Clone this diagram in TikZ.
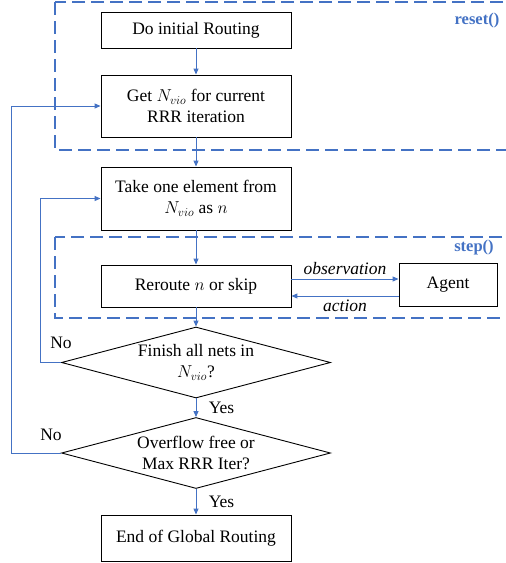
\documentclass[tikz,border=0pt]{standalone}
\usepackage{fontspec}
\setmainfont{Liberation Serif}
\usepackage{tikz}
\usetikzlibrary{shapes.geometric}
\usetikzlibrary{arrows.meta,calc}
\definecolor{flowblue}{HTML}{4472C4}

\begin{document}
\begin{tikzpicture}[x=1pt,y=-1pt,
	font=\fontsize{17.5}{21}\selectfont,
	process/.style={draw=black,line width=0.9pt,minimum width=190pt,inner sep=0pt,align=center},
	decision/.style={draw=black,line width=0.9pt,diamond,aspect=3.79,minimum width=269pt,minimum height=71pt,inner sep=0pt,align=center},
	flow/.style={draw=flowblue,line width=1pt,-{Triangle[length=6pt,width=5pt]}},
	region/.style={draw=flowblue,line width=1.8pt,dash pattern=on 13pt off 6pt},
	tag/.style={text=flowblue,font=\fontsize{16.5}{20}\selectfont\bfseries}]
	\clip (0,0) rectangle (506,563);
	% dashed env regions
	\path[region] (55,2) rectangle (530,150);
	\path[region] (55,237) rectangle (530,318);
	\node[tag] (resettag) at (477,21) {reset()};
	\node[tag] (steptag) at (474,248) {step()};
	% main flow
	\node[process,minimum height=36pt] (init) at (196,30) {Do initial Routing};
	\node[process,minimum height=62pt] (getvio) at (196,106) {Get $N_{vio}$ for current\\RRR iteration};
	\node[process,minimum height=63pt] (take) at (196,198.5) {Take one element from\\$N_{vio}$ as $n$};
	\node[process,minimum height=42pt] (reroute) at (196,286) {Reroute $n$ or skip};
	\node[process,minimum width=98pt,minimum height=43pt] (agent) at (448,284.5) {Agent};
	\node[decision] (finish) at (196,362.5) {Finish all nets in\\$N_{vio}$?};
	\node[decision] (overflow) at (196,453) {Overflow free or\\Max RRR Iter?};
	\node[process,minimum height=46pt] (done) at (196,538) {End of Global Routing};
	\draw[flow] (init) -- (getvio);
	\draw[flow] (getvio) -- (take);
	\draw[flow] (take) -- (reroute);
	\draw[flow] (reroute) -- (finish);
	\draw[flow] (finish) -- node[right=9pt]{Yes} (overflow);
	\draw[flow] (overflow) -- node[right=9pt]{Yes} (done);
	% agent loop
	\draw[flow] ([yshift=7pt]reroute.east) -- node[above]{\textit{observation}} ([yshift=7pt]reroute.east -| agent.west);
	\draw[flow] ([yshift=-10pt]reroute.east -| agent.west) -- node[below]{\textit{action}} ([yshift=-10pt]reroute.east);
	% back edges
	\draw[flow] (finish.west) node[above=10pt]{No} -- ++(-21,0) |- (take.west);
	\draw[flow] (overflow.west) node[above=9pt,xshift=-10pt]{No} -- ++(-50,0) |- (getvio.west);
\end{tikzpicture}
\end{document}
